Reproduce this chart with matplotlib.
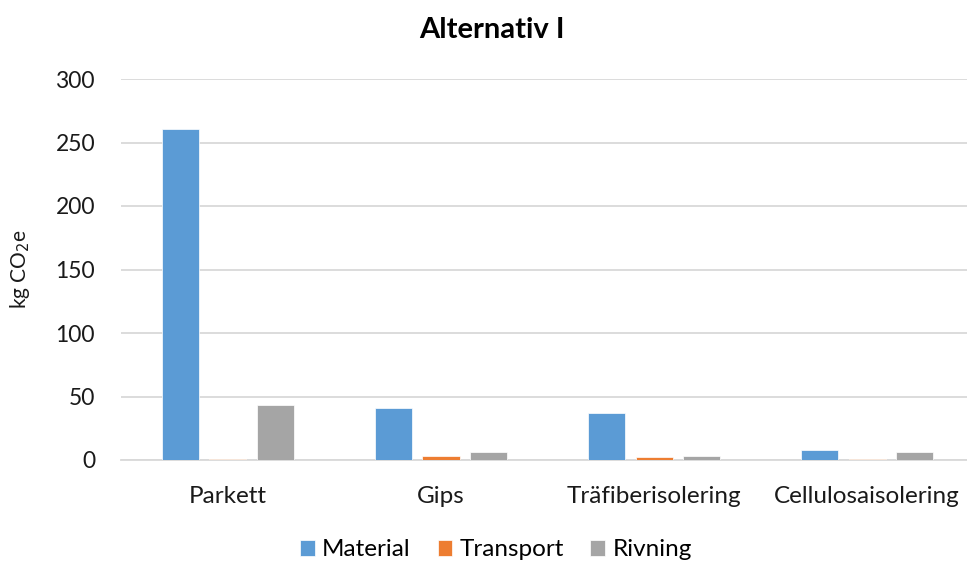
import matplotlib
matplotlib.use("Agg")
import matplotlib.pyplot as plt
import numpy as np

categories = ["Parkett", "Gips", "Träfiberisolering", "Cellulosaisolering"]
series_names = ["Material", "Transport", "Rivning"]
material = [260.3, 40.6, 37.2, 7.6]
transport = [0.5, 3.4, 2.1, 0.8]
rivning = [43.7, 6.5, 3.1, 6.0]
colors = ["#5B9BD5", "#ED7D31", "#A5A5A5"]
yticks = [0, 50, 100, 150, 200, 250, 300]

plt.rcParams["font.family"] = ["Lato", "DejaVu Sans"]

W, H = 967, 563
fig = plt.figure(figsize=(W / 100, H / 100), dpi=100)
left, right, top, bottom = 121.4, 967, 79, 460
ax = fig.add_axes([left / W, 1 - bottom / H, (right - left) / W, (bottom - top) / H])

x = np.arange(len(categories))
bar_w = 0.174
step = 0.222
for i, (vals, name, c) in enumerate(zip([material, transport, rivning], series_names, colors)):
    ax.bar(x + (i - 1) * step, vals, width=bar_w, color=c, label=name, zorder=3,
           edgecolor="white", linewidth=0.5)

ax.set_ylim(0, 300)
ax.set_xlim(-0.5, 3.5 - (973.7 - 967) / 213)
ax.set_yticks(yticks)
ax.set_xticks(x)
ax.set_xticklabels(categories)
ax.yaxis.grid(True, color="#D9D9D9", linewidth=1.3, zorder=0)
ax.set_axisbelow(True)
for s in ["top", "right", "left"]:
    ax.spines[s].set_visible(False)
ax.spines["bottom"].set_color("#D9D9D9")
ax.spines["bottom"].set_linewidth(1.3)
ax.tick_params(axis="y", length=0, labelsize=16.5, colors="#1a1a1a", pad=19)
ax.tick_params(axis="x", length=0, labelsize=17.5, colors="#1a1a1a", pad=19)

ax.set_ylabel("kg CO$_2$e", fontsize=15, color="#1a1a1a", va="center")
ax.yaxis.set_label_coords((20 - left) / (right - left), 0.5)

fig.text(492 / W, 1 - 30 / H, "Alternativ I", ha="center", va="center",
         fontsize=21, fontweight="bold", color="black")

fig.legend(loc="center", bbox_to_anchor=(496 / W, 1 - 550 / H), ncol=3, frameon=False,
           fontsize=17.5, handlelength=0.6, handleheight=0.6, handletextpad=0.3,
           columnspacing=1.1)

fig.savefig("out.png", dpi=100)
